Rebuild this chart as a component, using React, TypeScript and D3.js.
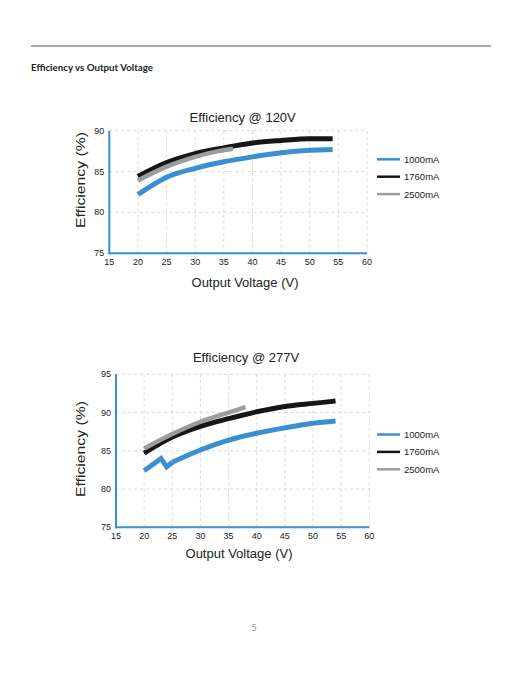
import React from "react";
import * as d3 from "d3";

interface Pt {
  x: number;
  y: number;
}

// series
const xTicks = [15, 20, 25, 30, 35, 40, 45, 50, 55, 60];
const legendLabels = ["1000mA", "1760mA", "2500mA"];
const seriesColors = ["#3a8fd2", "#161616", "#9c9c9c"];

const eff120_1000: Pt[] = [
  { x: 20, y: 82.2 }, { x: 22, y: 83.1 }, { x: 25, y: 84.3 }, { x: 30, y: 85.4 },
  { x: 35, y: 86.2 }, { x: 40, y: 86.8 }, { x: 45, y: 87.3 }, { x: 50, y: 87.6 },
  { x: 54, y: 87.7 },
];
const eff120_1760: Pt[] = [
  { x: 20, y: 84.4 }, { x: 25, y: 86.1 }, { x: 30, y: 87.2 }, { x: 35, y: 87.9 },
  { x: 40, y: 88.5 }, { x: 45, y: 88.8 }, { x: 50, y: 89.0 }, { x: 54, y: 89.0 },
];
const eff120_2500: Pt[] = [
  { x: 20, y: 83.9 }, { x: 25, y: 85.6 }, { x: 30, y: 86.8 }, { x: 34, y: 87.5 },
  { x: 36.6, y: 87.8 },
];

// the 1000mA line at 277V has a sharp kink between 20 and 24 V
const eff277_1000: Pt[] = [
  { x: 20, y: 82.4 }, { x: 23, y: 84.0 }, { x: 24, y: 82.9 }, { x: 25, y: 83.5 },
  { x: 30, y: 85.1 }, { x: 35, y: 86.4 }, { x: 40, y: 87.3 }, { x: 45, y: 88.0 },
  { x: 50, y: 88.6 }, { x: 54, y: 88.9 },
];
const eff277_1760: Pt[] = [
  { x: 20, y: 84.7 }, { x: 25, y: 86.8 }, { x: 28, y: 87.7 }, { x: 30, y: 88.2 },
  { x: 35, y: 89.2 }, { x: 40, y: 90.1 }, { x: 45, y: 90.8 }, { x: 50, y: 91.2 },
  { x: 54, y: 91.5 },
];
const eff277_2500: Pt[] = [
  { x: 20, y: 85.3 }, { x: 25, y: 87.2 }, { x: 30, y: 88.8 }, { x: 35, y: 90.0 },
  { x: 38, y: 90.7 },
];

const yTicks120 = [75, 80, 85, 90];
const yTicks277 = [75, 80, 85, 90, 95];

const chartFont = "'Liberation Sans', Arial, sans-serif";

interface ChartProps {
  title: string;
  series: Pt[][];
  sharp?: number[]; // number of leading points drawn with straight segments
  yTicks: number[];
  left: number;
  right: number;
  top: number;
  bottom: number;
  titleX: number;
  titleY: number;
  xTitleX: number;
  xTitleY: number;
  yTitleY: number;
  legendY: number;
}

const Chart = (p: ChartProps) => {
  const yMin = p.yTicks[0];
  const yMax = p.yTicks[p.yTicks.length - 1];
  const x = d3.scaleLinear().domain([15, 60]).range([p.left, p.right]);
  const y = d3.scaleLinear().domain([yMin, yMax]).range([p.bottom, p.top]);
  const smooth = d3
    .line<Pt>()
    .x((d) => x(d.x))
    .y((d) => y(d.y))
    .curve(d3.curveMonotoneX);
  const straight = d3
    .line<Pt>()
    .x((d) => x(d.x))
    .y((d) => y(d.y));

  return (
    <g fontFamily={chartFont}>
      {/* grid */}
      {xTicks.slice(1).map((t) => (
        <line key={"gx" + t} x1={x(t)} x2={x(t)} y1={p.top} y2={p.bottom}
          stroke="#cfcfcf" strokeWidth={0.8} strokeDasharray="3,3" />
      ))}
      {p.yTicks.slice(1).map((t) => (
        <line key={"gy" + t} x1={p.left} x2={p.right} y1={y(t)} y2={y(t)}
          stroke="#cfcfcf" strokeWidth={0.8} strokeDasharray="3,3" />
      ))}
      {/* axes */}
      <line x1={p.left} x2={p.left} y1={p.top} y2={p.bottom + 1} stroke="#3a8fd2" strokeWidth={2} />
      <line x1={p.left - 1} x2={p.right} y1={p.bottom} y2={p.bottom} stroke="#3a8fd2" strokeWidth={2} />
      {xTicks.map((t) => (
        <text key={"tx" + t} x={x(t)} y={p.bottom + 12} fontSize={9} textAnchor="middle" fill="#222">
          {t}
        </text>
      ))}
      {p.yTicks.map((t) => (
        <text key={"ty" + t} x={p.left - 5} y={y(t) + 3} fontSize={9} textAnchor="end" fill="#222">
          {t}
        </text>
      ))}
      {/* series */}
      {p.series.map((s, i) => {
        const k = p.sharp ? p.sharp[i] : 0;
        const w = i === 2 ? 4.5 : 5;
        if (k > 1) {
          return (
            <g key={"s" + i}>
              <path d={straight(s.slice(0, k)) || ""} fill="none" stroke={seriesColors[i]}
                strokeWidth={w} strokeLinejoin="miter" />
              <path d={smooth(s.slice(k - 1)) || ""} fill="none" stroke={seriesColors[i]}
                strokeWidth={w} />
            </g>
          );
        }
        return (
          <path key={"s" + i} d={smooth(s) || ""} fill="none" stroke={seriesColors[i]}
            strokeWidth={w} />
        );
      })}
      {/* titles */}
      <text x={p.titleX} y={p.titleY} fontSize={13} textAnchor="middle" fill="#222">
        {p.title}
      </text>
      <text x={p.xTitleX} y={p.xTitleY} fontSize={13} textAnchor="middle" fill="#222">
        Output Voltage (V)
      </text>
      <text transform={`translate(85,${p.yTitleY}) rotate(-90)`} fontSize={13.5}
        textAnchor="middle" fill="#222" textLength={96} lengthAdjust="spacingAndGlyphs">
        Efficiency (%)
      </text>
      {/* legend */}
      {legendLabels.map((l, i) => (
        <g key={l}>
          <line x1={377} x2={400} y1={p.legendY + i * 17.4} y2={p.legendY + i * 17.4}
            stroke={seriesColors[i]} strokeWidth={2.5} />
          <text x={404} y={p.legendY + i * 17.4 + 3.5} fontSize={9.5} fill="#222">
            {l}
          </text>
        </g>
      ))}
    </g>
  );
};

const App = () => {
  return (
    <svg width={522} height={676} style={{ position: "absolute", left: 0, top: 0 }}>
      <rect width={522} height={676} fill="#fff" />
      <line x1={31} x2={491} y1={46} y2={46} stroke="#555" strokeWidth={1} />
      <text x={31} y={71} fontFamily="Lato, sans-serif" fontWeight="bold" fontSize={9}
        fill="#222" textLength={122} lengthAdjust="spacingAndGlyphs">
        Efficiency vs Output Voltage
      </text>
      <Chart
        title="Efficiency @ 120V"
        series={[eff120_1000, eff120_1760, eff120_2500]}
        yTicks={yTicks120}
        left={109.3}
        right={367}
        top={130.7}
        bottom={253.3}
        titleX={242.7}
        titleY={121.5}
        xTitleX={245}
        xTitleY={286.5}
        yTitleY={180}
        legendY={159.3}
      />
      <Chart
        title="Efficiency @ 277V"
        series={[eff277_1000, eff277_1760, eff277_2500]}
        sharp={[4, 0, 0]}
        yTicks={yTicks277}
        left={116}
        right={369.3}
        top={374.3}
        bottom={527.3}
        titleX={246}
        titleY={362}
        xTitleX={239}
        xTitleY={558}
        yTitleY={449}
        legendY={434.5}
      />
      <text x={254} y={631} fontFamily="Lato, sans-serif" fontSize={10} fill="#999" textAnchor="middle">
        5
      </text>
    </svg>
  );
};

export default App;
